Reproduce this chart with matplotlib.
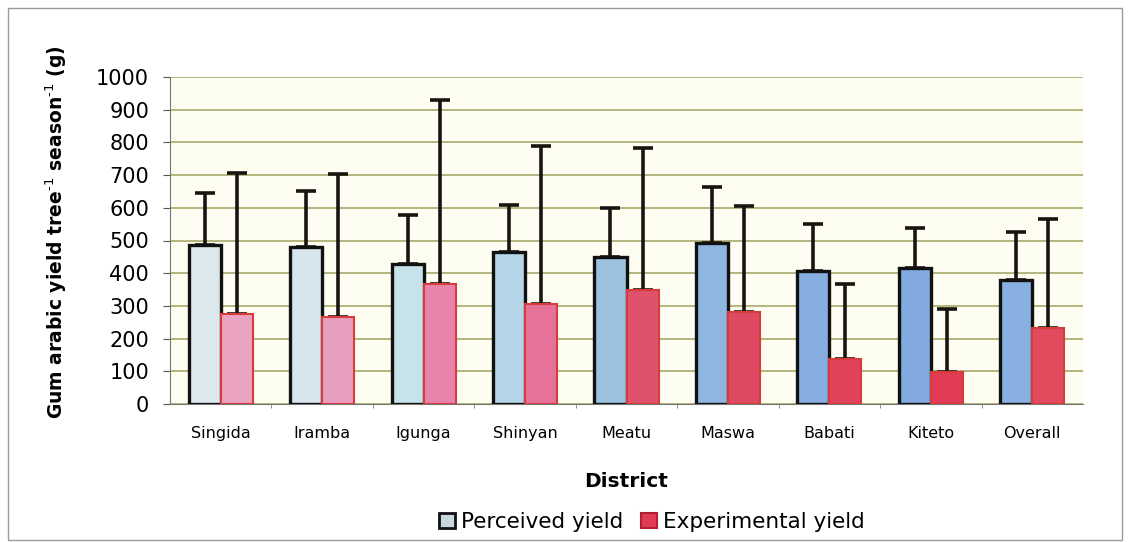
import numpy as np
import matplotlib.pyplot as plt
from matplotlib.patches import Rectangle

plt.rcParams['font.family'] = ['DejaVu Sans']

districts = ["Singida", "Iramba", "Igunga", "Shinyan", "Meatu", "Maswa", "Babati", "Kiteto", "Overall"]
perceived = [486, 480, 428, 465, 450, 492, 407, 416, 379]
perceived_sd = [159, 171, 150, 144, 150, 172, 143, 122, 147]
experimental = [275, 266, 367, 306, 349, 281, 138, 98, 232]
experimental_sd = [431, 437, 563, 483, 434, 325, 229, 192, 334]

# scanned colours drift from light to saturated across the page
perc_colors = ["#dde8ec", "#d6e6ec", "#c6e2ea", "#b4d6e8", "#9cc2e0", "#8fb6e0", "#86aee0", "#82aae0", "#88b0e0"]
exp_colors = ["#eaa4c2", "#e89ec0", "#e884aa", "#e6729a", "#e0526c", "#dd4a62", "#e0445a", "#e03c56", "#e34a5e"]


def main():
    fig = plt.figure(figsize=(11.3, 5.42), dpi=100)
    ax = fig.add_axes([170 / 1130, 138 / 542, 913 / 1130, 327 / 542])
    ax.set_facecolor("#fdfdf2")

    x = np.arange(len(districts))
    w = 0.316
    ax.bar(x - w / 2, perceived, w, color=perc_colors, edgecolor="#111111", linewidth=2.4, zorder=3)
    ax.bar(x + w / 2, experimental, w, color=exp_colors, edgecolor="#d63c3c", linewidth=1.5, zorder=3)
    ax.errorbar(x - w / 2, perceived, yerr=[np.zeros(len(x)), perceived_sd], fmt="none",
                ecolor="#1a1410", elinewidth=2.6, capsize=7.5, capthick=2.6, zorder=2)
    ax.errorbar(x + w / 2, experimental, yerr=[np.zeros(len(x)), experimental_sd], fmt="none",
                ecolor="#1a1410", elinewidth=2.6, capsize=7.5, capthick=2.6, zorder=2)

    ax.set_xlim(-0.5, len(districts) - 0.5)
    ax.set_ylim(0, 1000)
    ax.set_yticks(np.arange(0, 1001, 100))
    ax.yaxis.grid(True, color="#a8a86a", linewidth=1.2, zorder=0)
    ax.tick_params(axis="y", labelsize=15, length=5, color="#555555", pad=10)
    ax.set_xticks(x)
    ax.set_xticklabels(districts, fontsize=11.5)
    ax.tick_params(axis="x", length=0, pad=16)
    ax.set_xticks(np.arange(0.5, len(districts) - 0.5), minor=True)
    ax.tick_params(axis="x", which="minor", length=3, color="#777777")
    for s in ["top", "right"]:
        ax.spines[s].set_visible(False)
    ax.spines["left"].set_color("#777777")
    ax.spines["bottom"].set_color("#777777")

    ax.set_ylabel("Gum arabic yield tree$^{\\text{-1}}$ season$^{\\text{-1}}$ (g)", fontsize=13.5,
                  fontweight="bold")
    ax.yaxis.set_label_coords(-0.111, 0.526)
    ax.set_xlabel("District", fontsize=14.5, fontweight="bold", labelpad=22)

    handles = [Rectangle((0, 0), 1, 1, facecolor="#c8d8dc", edgecolor="#111111", linewidth=2),
               Rectangle((0, 0), 1, 1, facecolor="#e03c56", edgecolor="#b02030", linewidth=1.5)]
    fig.legend(handles, ["Perceived yield", "Experimental yield"], loc="center",
               bbox_to_anchor=(652 / 1130, 1 - 522 / 542), ncol=2, frameon=False,
               fontsize=15.5, handlelength=0.75, handleheight=0.75, handletextpad=0.3, columnspacing=0.8)

    # outer frame of the scanned chart
    fig.add_artist(Rectangle((8 / 1130, 2 / 542), 1114 / 1130, 532 / 542, transform=fig.transFigure,
                             fill=False, edgecolor="#9a9a9a", linewidth=1))

    fig.savefig("out.png", dpi=100)


if __name__ == "__main__":
    main()
